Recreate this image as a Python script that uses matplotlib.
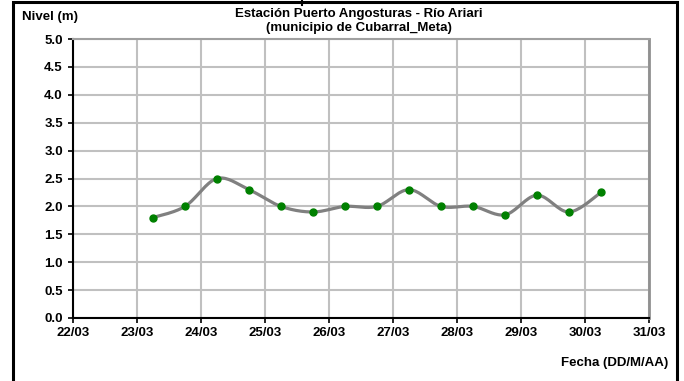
import numpy as np
import matplotlib
matplotlib.use("Agg")
import matplotlib.pyplot as plt
from matplotlib.patches import Rectangle
from matplotlib.lines import Line2D

plt.rcParams["font.family"] = ["Liberation Sans", "DejaVu Sans"]
plt.rcParams["font.weight"] = "bold"

# dia de marzo (fraccion = hora de lectura, 6am / 6pm)
dias = [23.25, 23.75, 24.25, 24.75, 25.25, 25.75, 26.25, 26.75,
        27.25, 27.75, 28.25, 28.75, 29.25, 29.75, 30.25]
nivel = [1.8, 2.0, 2.5, 2.3, 2.0, 1.9, 2.0, 2.0,
         2.3, 2.0, 2.0, 1.85, 2.2, 1.9, 2.25]

dias_ticks = [22, 23, 24, 25, 26, 27, 28, 29, 30, 31]
etiquetas_x = [f"{d}/03" for d in dias_ticks]
niveles_ticks = [0.0, 0.5, 1.0, 1.5, 2.0, 2.5, 3.0, 3.5, 4.0, 4.5, 5.0]


def suavizar(x, y, n=20):
    # curva suavizada tipo Excel (bezier con tangentes catmull-rom)
    x = np.asarray(x, float)
    y = np.asarray(y, float)
    px = np.concatenate([[x[0]], x, [x[-1]]])
    py = np.concatenate([[y[0]], y, [y[-1]]])
    xs, ys = [], []
    t = np.linspace(0, 1, n)
    for i in range(1, len(px) - 2):
        p0 = np.array([px[i], py[i]])
        p3 = np.array([px[i + 1], py[i + 1]])
        p1 = p0 + (np.array([px[i + 1], py[i + 1]]) - np.array([px[i - 1], py[i - 1]])) / 6
        p2 = p3 - (np.array([px[i + 2], py[i + 2]]) - np.array([px[i], py[i]])) / 6
        b = ((1 - t) ** 3)[:, None] * p0 + (3 * (1 - t) ** 2 * t)[:, None] * p1 \
            + (3 * (1 - t) * t ** 2)[:, None] * p2 + (t ** 3)[:, None] * p3
        xs.extend(b[:, 0])
        ys.extend(b[:, 1])
    return xs, ys


fig = plt.figure(figsize=(6.84, 3.81), dpi=100)
ax = fig.add_axes([73 / 684, 63 / 381, 576 / 684, 279 / 381])

sx, sy = suavizar(dias, nivel)
ax.plot(sx, sy, color="#808080", linewidth=2.3, solid_capstyle="round", zorder=3)
ax.plot(dias, nivel, linestyle="none", marker="o", markersize=5,
        color="#008000", markeredgecolor="#008000", zorder=4)

ax.set_xlim(22, 31)
ax.set_ylim(0, 5)
ax.set_xticks(dias_ticks)
ax.set_xticklabels(etiquetas_x)
ax.set_yticks(niveles_ticks)
ax.set_yticklabels([f"{v:.1f}" for v in niveles_ticks])
ax.tick_params(axis="both", labelsize=9.5, length=3.8, width=1.2, direction="out")
ax.tick_params(axis="y", pad=3.5)
ax.tick_params(axis="x", pad=2.5)

ax.grid(True, color="#c0c0c0", linewidth=1.5)
ax.set_axisbelow(True)
ax.spines["left"].set_color("black")
ax.spines["left"].set_linewidth(1.5)
ax.spines["bottom"].set_color("black")
ax.spines["bottom"].set_linewidth(1.5)
ax.spines["top"].set_color("#a0a0a0")
ax.spines["top"].set_linewidth(1.5)
ax.spines["right"].set_color("#909090")
ax.spines["right"].set_linewidth(2)

fig.text(359 / 684, 1 - 14 / 381, "Estación Puerto Angosturas - Río Ariari",
         ha="center", va="center", fontsize=9.5, fontweight="bold")
fig.text(359 / 684, 1 - 27.5 / 381, "(municipio de Cubarral_Meta)",
         ha="center", va="center", fontsize=9.5, fontweight="bold")
fig.text(22 / 684, 1 - 17 / 381, "Nivel (m)", ha="left", va="center",
         fontsize=9.5, fontweight="bold")
fig.text(668 / 684, 1 - 363 / 381, "Fecha (DD/M/AA)", ha="right", va="center",
         fontsize=9.5, fontweight="bold")

# marco del grafico
fig.patches.append(Rectangle((13 / 684, -0.1), 664 / 684, 1.1 - 2 / 381,
                             transform=fig.transFigure, fill=False,
                             edgecolor="black", linewidth=2.2))
fig.lines.append(Line2D([302 / 684, 302 / 684], [1, 1 - 5 / 381],
                        transform=fig.transFigure, color="black", linewidth=1.5))

fig.savefig("out.png", dpi=100)
